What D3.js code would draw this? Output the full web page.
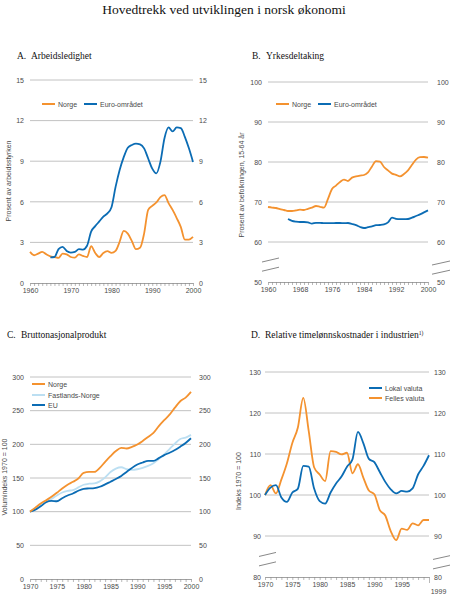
<!DOCTYPE html>
<html>
<head>
<meta charset="utf-8">
<script src="https://cdn.jsdelivr.net/npm/d3@7"></script>
<style>
  body { margin: 0; background: #fff; }
  text { font-family: "Liberation Sans", Arial, sans-serif; fill: #4a4a4a; }
  .serif { font-family: "Liberation Serif", "Times New Roman", serif; fill: #111; }
</style>
</head>
<body>
<svg id="chart" width="450" height="598"></svg>
<script>
// A. Arbeidsledighet (prosent av arbeidsstyrken)
var aNorge = [2.3, 2.05, 2.17, 2.3, 2.12, 1.97, 1.92, 1.85, 2.17, 2.12,
              1.92, 1.87, 2.12, 2.0, 1.92, 2.72, 2.22, 1.92, 2.22, 2.35,
              2.22, 2.37, 3.05, 3.85, 3.65, 3.1, 2.5, 2.6, 3.65, 5.4,
              5.7, 5.95, 6.35, 6.5, 5.9, 5.4, 4.8, 4.15, 3.2, 3.2, 3.4];   // 1960-2000
var aEuro = [1.9, 1.92, 2.5, 2.67, 2.37, 2.25, 2.3, 2.5, 2.47, 2.75,
             3.8, 4.2, 4.55, 4.9, 5.15, 5.6, 7.1, 8.35, 9.3, 10.0,
             10.2, 10.3, 10.25, 9.95, 9.2, 8.45, 8.1, 8.95, 10.7, 11.5,
             11.2, 11.5, 11.45, 10.8, 9.95, 8.95];                      // 1965-2000

// B. Yrkesdeltaking (prosent av befolkningen 15-64 år)
var bNorge = [68.75, 68.6, 68.5, 68.2, 68.0, 67.75, 67.75, 67.9, 68.1, 68.0,
              68.3, 68.6, 69.0, 68.8, 68.6, 70.8, 73.25, 74.1, 75.0, 75.6,
              75.25, 76.1, 76.4, 76.6, 76.75, 77.4, 78.9, 80.2, 80.1, 78.75,
              77.9, 77.1, 76.8, 76.4, 77.0, 77.9, 79.3, 80.6, 81.2, 81.25, 81.1]; // 1960-2000
var bEuro = [65.75, 65.3, 65.1, 65.0, 65.0, 64.9, 64.6, 64.8, 64.8, 64.7,
             64.7, 64.7, 64.75, 64.75, 64.7, 64.75, 64.5, 64.2, 63.75, 63.5,
             63.7, 63.9, 64.2, 64.25, 64.4, 64.9, 66.1, 65.8, 65.7, 65.7,
             65.75, 66.1, 66.5, 66.9, 67.4, 67.9];                         // 1965-2000

// C. Bruttonasjonalprodukt (volumindeks 1970 = 100), 1970-2000
var cNorge = [100, 106, 112, 117, 122, 128, 134.5, 140, 144.3, 149.3,
              157.7, 159, 159, 165, 174, 182.4, 190, 194.8, 193.8, 196.2,
              199.7, 205, 211, 217, 227, 235.8, 244, 254.5, 264, 269.4, 278];
var cFastland = [100, 105, 110, 115, 119, 124, 128.5, 131, 132, 136,
                 140, 141.5, 142, 145, 151, 159, 164, 166, 163, 162,
                 163, 165, 168, 172, 178, 185, 193, 201, 208, 210, 214];
var cEU = [100, 103, 108, 114, 116, 115.5, 120, 124, 127, 131,
           134, 134.5, 135, 137, 140.5, 144.5, 148.5, 153, 159, 165,
           170, 173, 175.5, 175.5, 179.5, 184, 187.5, 191.5, 196.5, 202, 209];

// D. Relative timelønnskostnader (indeks 1970 = 100)
var dLokal = [100, 101.8, 102.4, 99.4, 98.3, 100.6, 101.5, 107.1, 106.9, 101.5,
              98.5, 97.9, 100.6, 102.8, 104.5, 106.9, 108.7, 115.4, 112.6, 108.8,
              108.0, 105.6, 103.2, 101.4, 100.4, 101.0, 100.8, 101.6, 105.0, 107.1, 109.7];
var dFelles = [100, 102.4, 100.4, 103.8, 107.7, 112.7, 116.4, 123.7, 115.6, 106.7,
               105, 103.4, 110.7, 110.5, 109.9, 110.3, 105.3, 107.5, 104.2, 101.1,
               100.2, 96.3, 95, 91.2, 89, 91.8, 91.5, 93.1, 92.6, 93.9, 93.9];

// tick labels
var aYTicks = [0, 3, 6, 9, 12, 15];
var bYTicks = [50, 60, 70, 80, 90, 100];
var cYTicks = [0, 50, 100, 150, 200, 250, 300];
var dYTicks = [80, 90, 100, 110, 120, 130];
var aXLabels = [1960, 1970, 1980, 1990, 2000];
var bXLabels = [1960, 1968, 1976, 1984, 1992, 2000];
var cXLabels = [1970, 1975, 1980, 1985, 1990, 1995, 2000];
var dXLabels = [1970, 1975, 1980, 1985, 1990, 1995];

var orange = '#f4922f', blue = '#0b6cb4', light = '#bcdff2', grid = '#b3b3b3';
var svg = d3.select('#chart');

function toPts(vals, start) {
  return vals.map(function (v, i) { return [start + i, v]; });
}

svg.append('text').attr('class', 'serif')
  .attr('x', 224).attr('y', 14).attr('text-anchor', 'middle')
  .style('font-size', '13.5px').text('Hovedtrekk ved utviklingen i norsk økonomi');

// Draws one small panel
function panel(o) {
  var x = d3.scaleLinear().domain(o.xDomain).range([o.x0, o.x1]);
  var y = d3.scaleLinear().domain(o.yDomain).range([o.yb, o.yt]);
  var g = svg.append('g');

  // title
  g.append('text').attr('class', 'serif').attr('x', o.tx).attr('y', o.ty)
    .style('font-size', '9.5px').text(o.letter);
  var t = g.append('text').attr('class', 'serif').attr('x', o.tx + 14).attr('y', o.ty)
    .style('font-size', '9.5px').text(o.title);
  if (o.sup) t.append('tspan').attr('dy', -3.5).style('font-size', '5.5px').text(o.sup);

  // gridlines (no line at the bottom value, that's the axis)
  g.selectAll('line.grid').data(o.yTicks.slice(1)).enter().append('line')
    .attr('x1', o.x0).attr('x2', o.x1)
    .attr('y1', function (d) { return y(d); }).attr('y2', function (d) { return y(d); })
    .attr('stroke', grid).attr('stroke-width', 0.8);

  // y labels both sides
  var yl = g.append('g').attr('transform', 'translate(' + o.x0 + ',0)')
    .call(d3.axisLeft(y).tickValues(o.yTicks).tickSize(0).tickPadding(o.padL));
  var yr = g.append('g').attr('transform', 'translate(' + o.x1 + ',0)')
    .call(d3.axisRight(y).tickValues(o.yTicks).tickSize(0).tickPadding(o.padR));
  [yl, yr].forEach(function (a) {
    a.select('.domain').remove();
    a.selectAll('text').style('font-size', '7px').style('font-family', null).attr('fill', '#555');
  });

  // x axis with a tick every year
  var years = d3.range(o.xDomain[0], o.xDomain[1] + 1);
  var xa = g.append('g').attr('transform', 'translate(0,' + o.yb + ')')
    .call(d3.axisBottom(x).tickValues(years).tickSize(3).tickSizeOuter(0).tickPadding(2.5)
      .tickFormat(function (d) { return o.xLabels.indexOf(d) >= 0 ? d : ''; }));
  xa.select('.domain').attr('stroke', '#8a8a8a').attr('stroke-width', 0.8);
  xa.selectAll('.tick line').attr('stroke', '#8a8a8a').attr('stroke-width', 0.6);
  xa.selectAll('text').style('font-size', '7px').style('font-family', null).attr('fill', '#555');
  if (o.lastLabel) {
    var last = xa.selectAll('.tick').filter(function (d) { return d === o.xDomain[1]; });
    last.select('line').attr('y2', 6);
    last.select('text').text(o.lastLabel).attr('x', 9).attr('y', 12);
  }

  // axis break marks
  if (o.brk) {
    var yb1 = y(o.brk[0]), yb2 = y(o.brk[1]);
    [yb1, yb2].forEach(function (yy) {
      g.append('line').attr('x1', o.x0 - 6).attr('x2', o.x0 + 11)
        .attr('y1', yy + 2).attr('y2', yy - 2).attr('stroke', '#555').attr('stroke-width', 0.7);
      g.append('line').attr('x1', o.x1 + 4).attr('x2', o.x1 + 22)
        .attr('y1', yy + 5).attr('y2', yy + 1).attr('stroke', '#555').attr('stroke-width', 0.7);
    });
  }

  // y axis title
  g.append('text').attr('transform', 'translate(' + o.ax + ',' + o.ay + ') rotate(-90)')
    .attr('text-anchor', 'middle').style('font-size', '7px').text(o.yTitle);

  // lines
  var line = d3.line().curve(d3.curveMonotoneX)
    .x(function (d) { return x(d[0]); }).y(function (d) { return y(d[1]); });
  o.series.forEach(function (s) {
    g.append('path').datum(toPts(s.values, s.start))
      .attr('fill', 'none').attr('stroke', s.color).attr('stroke-width', 1.8)
      .attr('stroke-linejoin', 'round').attr('d', line);
  });

  // legend
  o.legend.forEach(function (l) {
    g.append('line').attr('x1', l.x).attr('x2', l.x + 13).attr('y1', l.y).attr('y2', l.y)
      .attr('stroke', l.color).attr('stroke-width', 2);
    g.append('text').attr('x', l.x + 16).attr('y', l.y + 2.5)
      .style('font-size', '7px').text(l.name);
  });
}

panel({
  letter: 'A.', title: 'Arbeidsledighet', tx: 17, ty: 59,
  xDomain: [1960, 2000], yDomain: [0, 15], x0: 30, x1: 193, yb: 283, yt: 80,
  yTicks: aYTicks, xLabels: aXLabels, padL: 6, padR: 6,
  yTitle: 'Prosent av arbeidsstyrken', ax: 11, ay: 181,
  series: [{ values: aNorge, start: 1960, color: orange },
           { values: aEuro, start: 1965, color: blue }],
  legend: [{ name: 'Norge', color: orange, x: 42, y: 104 },
           { name: 'Euro-området', color: blue, x: 84, y: 104 }]
});

panel({
  letter: 'B.', title: 'Yrkesdeltaking', tx: 252, ty: 59,
  xDomain: [1960, 2000], yDomain: [50, 100], x0: 268, x1: 428, yb: 282, yt: 82,
  yTicks: bYTicks, xLabels: bXLabels, padL: 6, padR: 9,
  yTitle: 'Prosent av befolkningen, 15-64 år', ax: 244, ay: 185,
  brk: [55.5, 53.2],
  series: [{ values: bNorge, start: 1960, color: orange },
           { values: bEuro, start: 1965, color: blue }],
  legend: [{ name: 'Norge', color: orange, x: 276, y: 104 },
           { name: 'Euro-området', color: blue, x: 318, y: 104 }]
});

panel({
  letter: 'C.', title: 'Bruttonasjonalprodukt', tx: 7, ty: 338,
  xDomain: [1970, 2000], yDomain: [0, 300], x0: 30, x1: 191, yb: 579, yt: 377,
  yTicks: cYTicks, xLabels: cXLabels, padL: 6, padR: 8,
  yTitle: 'Volumindeks 1970 = 100', ax: 7, ay: 477,
  series: [{ values: cFastland, start: 1970, color: light },
           { values: cEU, start: 1970, color: blue },
           { values: cNorge, start: 1970, color: orange }],
  legend: [{ name: 'Norge', color: orange, x: 32, y: 384 },
           { name: 'Fastlands-Norge', color: light, x: 32, y: 395 },
           { name: 'EU', color: blue, x: 32, y: 405 }]
});

panel({
  letter: 'D.', title: 'Relative timelønnskostnader i industrien', sup: '1)', tx: 251, ty: 338,
  xDomain: [1970, 2000], yDomain: [80, 130], x0: 265, x1: 429, yb: 577, yt: 372,
  yTicks: dYTicks, xLabels: dXLabels, padL: 4, padR: 5, lastLabel: '1999',
  yTitle: 'Indeks 1970 = 100', ax: 241, ay: 481,
  brk: [85.5, 83.2],
  series: [{ values: dFelles, start: 1970, color: orange },
           { values: dLokal, start: 1970, color: blue }],
  legend: [{ name: 'Lokal valuta', color: blue, x: 369, y: 388 },
           { name: 'Felles valuta', color: orange, x: 369, y: 398 }]
});
</script>
</body>
</html>
